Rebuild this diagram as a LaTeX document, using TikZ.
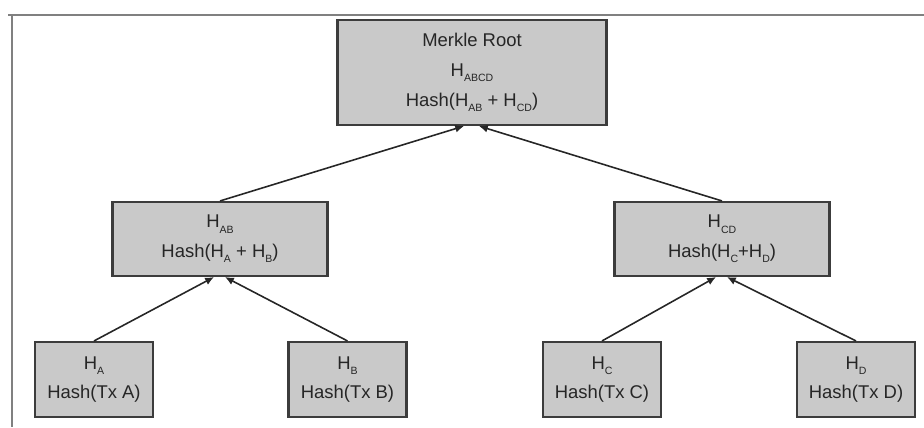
\documentclass[tikz,border=0pt]{standalone}
\usepackage{fontspec}
\setmainfont{Liberation Sans}
\usepackage{xcolor}
\usetikzlibrary{positioning,arrows.meta}
\definecolor{boxgray}{HTML}{C9C9C9}
\definecolor{edgegray}{HTML}{3C3C3C}
\definecolor{inkgray}{HTML}{262626}
\newcommand{\hs}[1]{\raisebox{-0.55ex}{\fontsize{6}{6}\selectfont #1}}
\tikzset{
  hashbox/.style={draw=edgegray, fill=boxgray, line width=1.2pt, align=center, inner sep=0pt,
    text=inkgray, font=\fontsize{10.5}{17}\selectfont},
  rootbox/.style={hashbox, minimum width=5.38cm, minimum height=2.1cm},
  midbox/.style={hashbox, minimum width=4.3cm, minimum height=1.48cm},
  leafbox/.style={hashbox, minimum width=2.36cm, minimum height=1.5cm},
  hashlink/.style={-{Latex[length=5pt,width=4.5pt]}, draw=inkgray, line width=0.9pt}
}
\begin{document}
\begin{tikzpicture}
    \useasboundingbox (0,0) rectangle (18.48,8.54);
    % Frame
    \draw[gray, line width=1.5pt] (0.16,8.24) -- (18.48,8.24);
    \draw[gray, line width=1.3pt] (0.24,8.24) -- (0.24,0);

    % Tree
    \node[rootbox] (root) at (9.44,7.09) {Merkle Root\\H\hs{ABCD}\\Hash(H\hs{AB} + H\hs{CD})};
    \node[midbox] (hab) at (4.40,3.76) {H\hs{AB}\\Hash(H\hs{A} + H\hs{B})};
    \node[midbox] (hcd) at (14.44,3.76) {H\hs{CD}\\Hash(H\hs{C}+H\hs{D})};
    \node[leafbox] (ha) at (1.88,0.95) {H\hs{A}\\Hash(Tx A)};
    \node[leafbox] (hb) at (6.95,0.95) {H\hs{B}\\Hash(Tx B)};
    \node[leafbox] (hc) at (12.04,0.95) {H\hs{C}\\Hash(Tx C)};
    \node[leafbox] (hd) at (17.12,0.95) {H\hs{D}\\Hash(Tx D)};

    % Links
    \draw[hashlink] (hab.north) -- ([xshift=-0.16cm]root.south);
    \draw[hashlink] (hcd.north) -- ([xshift=0.14cm]root.south);
    \draw[hashlink] (ha.north) -- ([xshift=-0.12cm]hab.south);
    \draw[hashlink] (hb.north) -- ([xshift=0.1cm]hab.south);
    \draw[hashlink] (hc.north) -- ([xshift=-0.12cm]hcd.south);
    \draw[hashlink] (hd.north) -- ([xshift=0.1cm]hcd.south);
\end{tikzpicture}
\end{document}
